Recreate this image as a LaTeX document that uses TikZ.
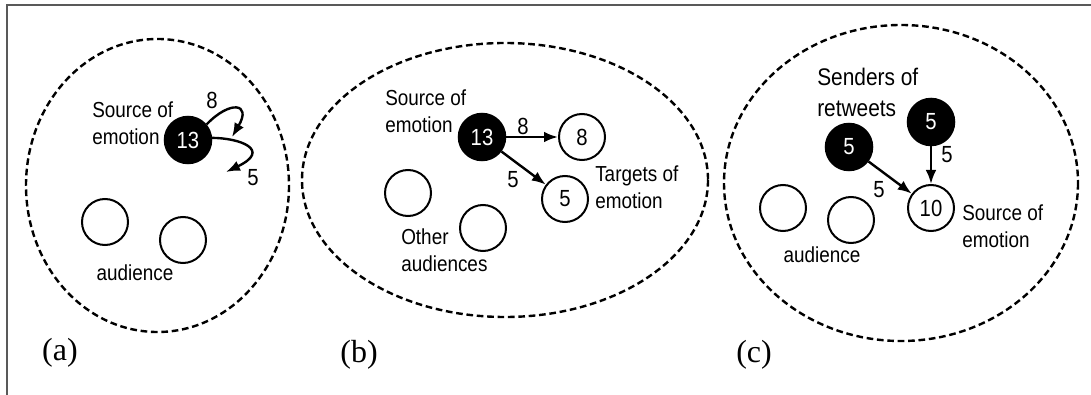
\documentclass[tikz,border=0pt]{standalone}
\usepackage{fontspec}
\setmainfont{Liberation Serif}
\newfontfamily\labfont[FakeStretch=0.87]{Liberation Sans}
\usetikzlibrary{arrows.meta}
\begin{document}
\begin{tikzpicture}[x=0.75pt,y=-0.75pt,
  grp/.style={draw=black,line width=1.8pt,dash pattern=on 5pt off 2.8pt},
  blk/.style={circle,fill=black,draw=black,line width=1.4pt,minimum size=35pt,inner sep=0pt,text=white,font=\labfont\fontsize{17.5}{19}\selectfont},
  wht/.style={circle,draw=black,line width=1.5pt,minimum size=34.5pt,inner sep=0pt,font=\labfont\fontsize{17.5}{19}\selectfont},
  lab/.style={font=\labfont\fontsize{16.3}{20}\selectfont,inner sep=0pt,align=left},
  num/.style={font=\labfont\fontsize{17.5}{19}\selectfont,inner sep=0pt},
  panelcap/.style={font=\fontsize{24}{26}\selectfont,inner sep=0pt},
  arr/.style={line width=1.8pt,-{Latex[length=10.5pt,width=8pt]}}]
\useasboundingbox (0,0) rectangle (1091,395);
\draw[gray!70!black,line width=1.2pt] (7,395) -- (7,5) -- (1091,5);

% ---------- (a)
\draw[grp] (157.5,185.5) ellipse [x radius=131.5,y radius=146.5];
\node[blk] (a13) at (188,140) {13};
\node[wht] (aa1) at (105,222) {};
\node[wht] (aa2) at (183,240) {};
\node[lab,anchor=west] (asrc) at (92,123.5) {Source of\\emotion};
\node[lab] (aaud) at (135,273) {audience};
\coordinate (ae1) at (232,137);
\coordinate (ae2) at (226,172);
\draw[arr] (a13.40) .. controls (230,100) and (252,103) .. (ae1);
\draw[arr] (a13.5) .. controls (240,138) and (272,150) .. (ae2);
\node[num] (al8) at (212,100) {8};
\node[num] (al5) at (253,178) {5};
\node[panelcap] (capa) at (60,353) {(a)};

% ---------- (b)
\draw[grp] (505,180) ellipse [x radius=203,y radius=137];
\node[blk] (b13) at (482,137) {13};
\node[wht] (b8) at (582,137) {8};
\node[wht] (b5) at (565,199) {5};
\node[wht] (bo1) at (408,193) {};
\node[wht] (bo2) at (483,228) {};
\node[lab,anchor=west] (bsrc) at (385,111.5) {Source of\\emotion};
\node[lab,anchor=west] (btgt) at (595,187.5) {Targets of\\emotion};
\node[lab,anchor=west] (both) at (401,250) {Other\\audiences};
\draw[arr] (b13) -- (b8);
\draw[arr] (b13) -- (b5);
\node[num] (bl8) at (523,126) {8};
\node[num] (bl5) at (513,180) {5};
\node[panelcap] (capb) at (359,355) {(b)};

% ---------- (c)
\draw[grp] (901,183) ellipse [x radius=177,y radius=158];
\node[blk] (cs1) at (849,147) {5};
\node[blk] (cs2) at (931,122) {5};
\node[wht] (c10) at (931,208) {10};
\node[wht] (ca1) at (783,208) {};
\node[wht] (ca2) at (851,220) {};
\node[lab,anchor=west,font=\labfont\fontsize{18}{23}\selectfont] (csnd) at (817,92.5) {Senders of\\retweets};
\node[lab,anchor=west] (csrc) at (962,226) {Source of\\emotion};
\node[lab] (caud) at (822,255) {audience};
\draw[arr] (cs1) -- (c10);
\draw[arr] (cs2) -- (c10);
\node[num] (cl1) at (947,155) {5};
\node[num] (cl2) at (879,190) {5};
\node[panelcap] (capc) at (754,355) {(c)};
\end{tikzpicture}
\end{document}
